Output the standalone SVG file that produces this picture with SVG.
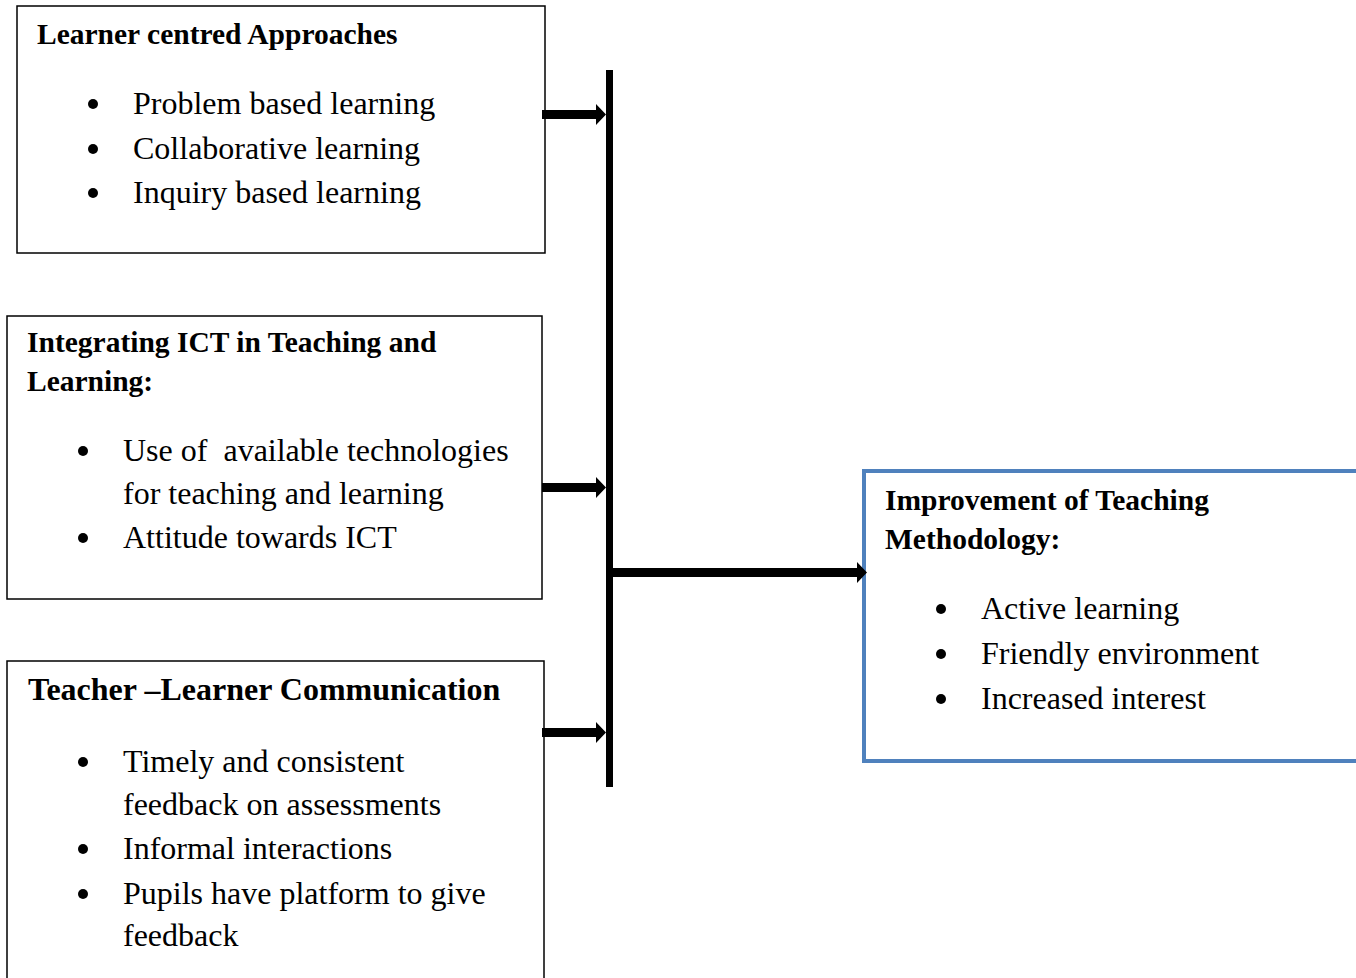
<svg xmlns="http://www.w3.org/2000/svg" width="1356" height="978" viewBox="0 0 1356 978">
<style>
.box{fill:#fff;stroke:#000;stroke-width:1.5}
.blue{fill:#fff;stroke:#4F81BD;stroke-width:4}
.t{font-family:"Liberation Serif",serif;font-weight:bold;font-size:29.5px;fill:#000}
.b{font-family:"Liberation Serif",serif;font-size:32px;fill:#000}
.arr{fill:#000}
</style>
<rect width="1356" height="978" fill="#fff"/>
<g id="learner">
<rect class="box" x="17" y="6" width="528" height="247"/>
<text class="t" x="37" y="44">Learner centred Approaches</text>
<circle cx="93" cy="104" r="5"/><text class="b" x="133" y="114">Problem based learning</text>
<circle cx="93" cy="149" r="5"/><text class="b" x="133" y="159">Collaborative learning</text>
<circle cx="93" cy="193" r="5"/><text class="b" x="133" y="203">Inquiry based learning</text>
</g>
<g id="ict">
<rect class="box" x="7" y="316" width="535" height="283"/>
<text class="t" x="27" y="352">Integrating ICT in Teaching and</text>
<text class="t" x="27" y="391">Learning:</text>
<circle cx="83" cy="451" r="5"/><text class="b" x="123" y="461" style="white-space:pre">Use of  available technologies</text>
<text class="b" x="123" y="504">for teaching and learning</text>
<circle cx="83" cy="538" r="5"/><text class="b" x="123" y="548">Attitude towards ICT</text>
</g>
<g id="communication">
<rect class="box" x="7" y="661" width="537" height="330"/>
<text class="t" x="28" y="700" style="font-size:32px">Teacher –Learner Communication</text>
<circle cx="83" cy="762" r="5"/><text class="b" x="123" y="772">Timely and consistent</text>
<text class="b" x="123" y="815">feedback on assessments</text>
<circle cx="83" cy="849" r="5"/><text class="b" x="123" y="859">Informal interactions</text>
<circle cx="83" cy="894" r="5"/><text class="b" x="123" y="904">Pupils have platform to give</text>
<text class="b" x="123" y="946">feedback</text>
</g>
<g id="improvement">
<rect class="blue" x="864" y="471" width="500" height="290"/>
<text class="t" x="885" y="510">Improvement of Teaching</text>
<text class="t" x="885" y="549">Methodology:</text>
<circle cx="941" cy="609" r="5"/><text class="b" x="981" y="619">Active learning</text>
<circle cx="941" cy="654" r="5"/><text class="b" x="981" y="664">Friendly environment</text>
<circle cx="941" cy="699" r="5"/><text class="b" x="981" y="709">Increased interest</text>
</g>
<g id="connectors">
<rect class="arr" x="606" y="70" width="7" height="717"/>
<polygon class="arr" points="542,110 596,110 596,104 606,114.5 596,125 596,119 542,119"/>
<polygon class="arr" points="542,483 596,483 596,477 606,487.5 596,498 596,492 542,492"/>
<polygon class="arr" points="542,728 596,728 596,722 606,732.5 596,743 596,737 542,737"/>
<polygon class="arr" points="612,568 857,568 857,562 867,572.5 857,583 857,577 612,577"/>
</g>
</svg>
